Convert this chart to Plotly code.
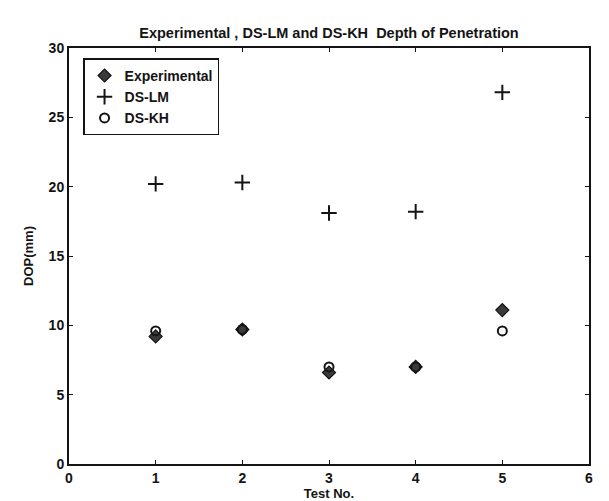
import plotly.graph_objects as go

tests = [1, 2, 3, 4, 5]
experimental = [9.2, 9.7, 6.6, 7.0, 11.1]
ds_lm = [20.2, 20.3, 18.1, 18.2, 26.8]
ds_kh = [9.6, 9.7, 7.0, 7.0, 9.6]

x_ticks = [0, 1, 2, 3, 4, 5, 6]
y_ticks = [0, 5, 10, 15, 20, 25, 30]

FONT = "Liberation Sans"
INK = "#141414"

fig = go.Figure()
fig.add_trace(go.Scatter(
    x=tests, y=experimental, mode="markers", name="Experimental",
    marker=dict(symbol="diamond", size=10, color="#3a3a3a",
                line=dict(color=INK, width=1.2)),
))
fig.add_trace(go.Scatter(
    x=tests, y=ds_lm, mode="markers", name="DS-LM",
    marker=dict(symbol="cross-thin", size=11, color=INK,
                line=dict(color=INK, width=2)),
))
fig.add_trace(go.Scatter(
    x=tests, y=ds_kh, mode="markers", name="DS-KH",
    marker=dict(symbol="circle-open", size=9, color=INK,
                line=dict(color=INK, width=2)),
))

axis_common = dict(
    showline=True, mirror="ticks", linecolor=INK, linewidth=2,
    ticks="inside", ticklen=4, tickwidth=1.2, tickcolor=INK,
    showgrid=False, zeroline=False,
    tickfont=dict(family=FONT, size=14, color=INK, weight="bold"),
)

fig.update_layout(
    width=609, height=501,
    margin=dict(l=61, r=28, t=40, b=45),
    paper_bgcolor="white", plot_bgcolor="white",
    title=dict(
        text="Experimental , DS-LM and DS-KH  Depth of Penetration",
        x=0.5, xref="paper", xanchor="center",
        y=1 - 25 / 501, yanchor="middle",
        font=dict(family=FONT, size=14.5, color=INK, weight="bold"),
    ),
    xaxis=dict(
        range=[0, 6], tickvals=x_ticks, ticktext=[str(v) for v in x_ticks],
        title=dict(text="Test No.", standoff=2,
                   font=dict(family=FONT, size=13, color=INK, weight="bold")),
        **axis_common,
    ),
    yaxis=dict(
        range=[0, 30], tickvals=y_ticks, ticktext=[str(v) for v in y_ticks],
        title=dict(text="DOP(mm)", standoff=12,
                   font=dict(family=FONT, size=13, color=INK, weight="bold")),
        **axis_common,
    ),
    legend=dict(
        x=0.027, y=0.975, xanchor="left", yanchor="top",
        bgcolor="white", bordercolor=INK, borderwidth=1.5,
        font=dict(family=FONT, size=14, color=INK, weight="bold"),
        itemwidth=30, tracegroupgap=0,
    ),
    showlegend=True,
)

fig.write_html("out.html")
